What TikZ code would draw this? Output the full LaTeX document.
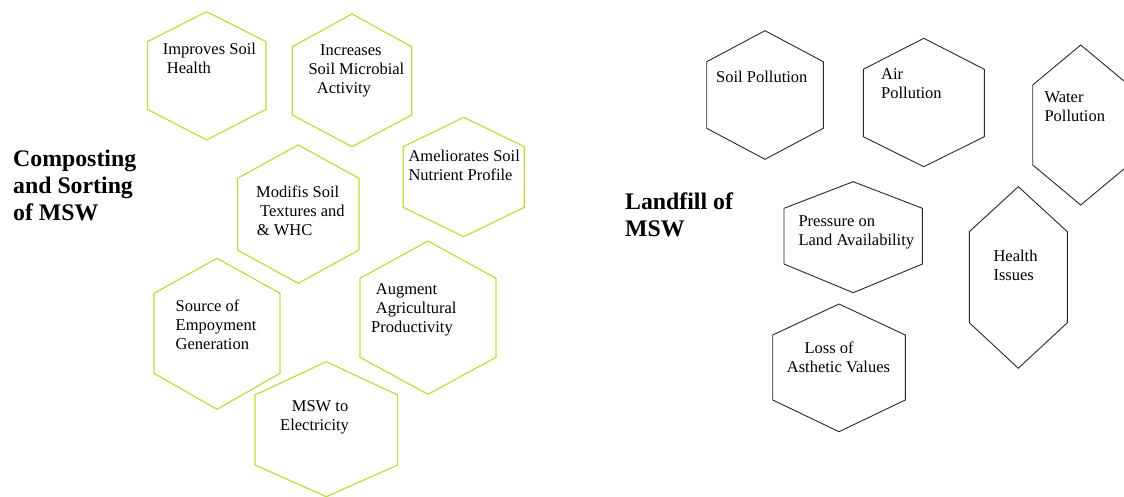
\documentclass[tikz,border=0pt]{standalone}
\usepackage{fontspec}
\setmainfont{Liberation Serif}
\usepackage{tikz}
\definecolor{hexgreen}{RGB}{180,225,60}
\definecolor{hexgray}{RGB}{40,40,40}
% hexagon: style, centre x, half width, top, upper corner, lower corner, bottom
\newcommand{\hexcell}[7]{%
  \draw[#1] (#2,#4) -- (#2+#3,#5) -- (#2+#3,#6) -- (#2,#7)
    -- (#2-#3,#6) -- (#2-#3,#5) -- cycle;}

\begin{document}
\begin{tikzpicture}[x=1pt,y=-1pt,
    greenhex/.style={draw=hexgreen,line width=1.2pt,line join=miter},
    grayhex/.style={draw=hexgray,line width=0.9pt},
    cell/.style={anchor=base west,inner sep=0pt,align=left,
      font=\fontsize{16.5}{19}\selectfont},
    heading/.style={anchor=base west,inner sep=0pt,align=left,
      font=\fontsize{23.8}{27}\selectfont\bfseries}]
    \useasboundingbox (0,0) rectangle (1124,497);
    \clip (0,0) rectangle (1124,497);

    % composting side (text placed by its last line)
    \hexcell{greenhex}{206.7}{59.3}{11.7}{41.7}{109.3}{140}
    \hexcell{greenhex}{352}{59.7}{14}{46.7}{115}{146.7}
    \hexcell{greenhex}{463.8}{60.5}{117.3}{146.7}{207.3}{236.7}
    \hexcell{greenhex}{298.2}{60.8}{145}{178.3}{250}{283.3}
    \hexcell{greenhex}{217}{63}{258.3}{293.3}{373.3}{409.3}
    \hexcell{greenhex}{428}{68}{241}{278.3}{357.3}{394.3}
    \hexcell{greenhex}{326.3}{71.3}{361.7}{395}{465}{496.7}

    \node[heading] (compost) at (13,220.7) {Composting\\and Sorting\\of MSW};
    \node[cell] (soilhealth) at (162.7,73.3) {Improves Soil\\\hspace*{4pt}Health};
    \node[cell] (microbial) at (308.3,94) {\hspace*{11.7pt}Increases\\Soil Microbial\\\hspace*{8.4pt}Activity};
    \node[cell] (nutrient) at (408.3,180.7) {Ameliorates Soil\\Nutrient Profile};
    \node[cell] (texture) at (256,235) {Modifis Soil\\\hspace*{4pt}Textures and\\\hspace*{0.7pt}\& WHC};
    \node[cell] (employ) at (175.5,349.3) {Source of\\Empoyment\\Generation};
    \node[cell] (agri) at (371,332.3) {\hspace*{4.7pt}Augment\\\hspace*{4.7pt}Agricultural\\Productivity};
    \node[cell] (power) at (280,430.7) {\hspace*{11.7pt}MSW to\\Electricity};

    % landfill side
    \hexcell{grayhex}{765}{58.3}{30.7}{61.7}{128.3}{159.3}
    \hexcell{grayhex}{923.8}{60.5}{38.3}{69.3}{136.7}{166.7}
    \hexcell{grayhex}{1080.7}{48}{45}{85}{165}{205}
    \hexcell{grayhex}{853.2}{69.2}{181.7}{208.3}{264}{292.7}
    \hexcell{grayhex}{1018.3}{49}{186.7}{231.7}{322.7}{368.3}
    \hexcell{grayhex}{839}{66.3}{304}{335}{400}{431.7}

    \node[heading] (landfill) at (625,236.5) {Landfill of\\MSW};
    \node[cell] (soilpol) at (716,82.7) {Soil Pollution};
    \node[cell] (airpol) at (881,99) {Air\\Pollution};
    \node[cell] (waterpol) at (1044.3,121.7) {Water\\Pollution};
    \node[cell] (land) at (798.3,245.7) {Pressure on\\Land Availability};
    \node[cell] (health) at (993.3,280) {Health\\Issues};
    \node[cell] (aesthetic) at (786.7,372.3) {\hspace*{17.6pt}Loss of\\Asthetic Values};
\end{tikzpicture}
\end{document}
